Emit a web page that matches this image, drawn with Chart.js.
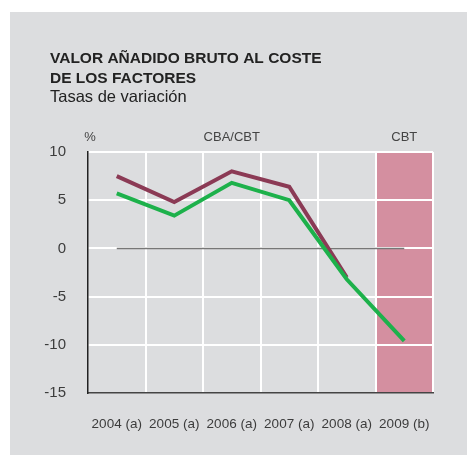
<!DOCTYPE html>
<html>
<head>
<meta charset="utf-8">
<script src="https://cdn.jsdelivr.net/npm/chart.js@4"></script>
<style>
html,body{margin:0;padding:0;background:#fff;}
#wrap{position:relative;width:467px;height:455px;}
</style>
</head>
<body>
<div id="wrap"><canvas id="c" width="467" height="455"></canvas></div>
<script>
const categories = ['2004 (a)', '2005 (a)', '2006 (a)', '2007 (a)', '2008 (a)', '2009 (b)'];
const seriesCBA = [7.5, 4.8, 8.0, 6.4, -3.0, null];
const seriesCBT = [5.7, 3.4, 6.8, 5.0, -3.2, -9.6];
const zeroLine = [0, 0, 0, 0, 0, 0];
const yTicks = [10, 5, 0, -5, -10, -15];
const titleLines = ['VALOR AÑADIDO BRUTO AL COSTE', 'DE LOS FACTORES'];
const subtitleText = 'Tasas de variación';
const unitLabel = '%';
const groupLabels = ['CBA/CBT', 'CBT'];

const FONT = '"Liberation Sans", Arial, Helvetica, sans-serif';

const decor = {
  id: 'decor',
  beforeDraw(chart) {
    const ctx = chart.ctx;
    const x = chart.scales.x, ca = chart.chartArea;
    ctx.save();
    ctx.fillStyle = '#dcdddf';
    ctx.fillRect(10, 12, chart.width - 10, chart.height - 12);
    const bandLeft = (x.getPixelForValue(4) + x.getPixelForValue(5)) / 2;
    ctx.fillStyle = '#d48fa0';
    ctx.fillRect(bandLeft, ca.top, ca.right - bandLeft, ca.bottom - ca.top);
    ctx.restore();
  },
  afterDraw(chart) {
    const ctx = chart.ctx;
    const x = chart.scales.x, ca = chart.chartArea;
    ctx.save();
    ctx.fillStyle = '#222';
    ctx.textAlign = 'left';
    ctx.textBaseline = 'alphabetic';
    ctx.font = 'bold 15.5px ' + FONT;
    ctx.fillText(titleLines[0], 50, 63);
    ctx.fillText(titleLines[1], 50, 83);
    ctx.font = '16.5px ' + FONT;
    ctx.fillText(subtitleText, 50, 102);
    ctx.fillStyle = '#444';
    ctx.font = '13px ' + FONT;
    ctx.textAlign = 'center';
    ctx.textBaseline = 'middle';
    ctx.fillText(unitLabel, ca.left + 2, 137);
    const bandLeft = (x.getPixelForValue(4) + x.getPixelForValue(5)) / 2;
    ctx.fillText(groupLabels[0], (ca.left + bandLeft) / 2, 137);
    ctx.fillText(groupLabels[1], x.getPixelForValue(5), 137);
    ctx.restore();
  }
};

new Chart(document.getElementById('c'), {
  type: 'line',
  data: {
    labels: categories,
    datasets: [
      { label: 'CBA', data: seriesCBA, borderColor: '#8b3a55', borderWidth: 4, pointRadius: 0, borderJoinStyle: 'miter', borderCapStyle: 'butt', tension: 0, order: 2, spanGaps: false },
      { label: 'CBT', data: seriesCBT, borderColor: '#1db14b', borderWidth: 4, pointRadius: 0, borderJoinStyle: 'miter', borderCapStyle: 'butt', tension: 0, order: 1 },
      { label: 'cero', data: zeroLine, borderColor: '#777', borderWidth: 1.5, pointRadius: 0, tension: 0, order: 3 }
    ]
  },
  options: {
    responsive: false,
    animation: false,
    devicePixelRatio: 1,
    layout: { padding: { left: 0, top: 152, right: 34, bottom: 0 } },
    plugins: { legend: { display: false }, tooltip: { enabled: false }, title: { display: false } },
    scales: {
      x: {
        offset: true,
        grid: { offset: true, drawTicks: false, lineWidth: 2, color: (c) => c.index === 0 ? 'rgba(0,0,0,0)' : '#ffffff' },
        border: { display: true, color: '#444', width: 1.5 },
        ticks: { padding: 23, color: '#3c3c3c', font: { family: FONT, size: 13.5 }, maxRotation: 0, autoSkip: false },
        afterFit(s) { s.height = 62; }
      },
      y: {
        min: -15, max: 10,
        afterBuildTicks(s) { s.ticks = yTicks.map(v => ({ value: v })); },
        grid: { drawTicks: false, lineWidth: 2, color: (c) => c.tick && c.tick.value === -15 ? 'rgba(0,0,0,0)' : '#ffffff' },
        border: { display: true, color: '#222', width: 1.5 },
        ticks: { padding: 22, color: '#3c3c3c', font: { family: FONT, size: 15 } },
        afterFit(s) { s.width = 88; }
      }
    }
  },
  plugins: [decor]
});
</script>
</body>
</html>
